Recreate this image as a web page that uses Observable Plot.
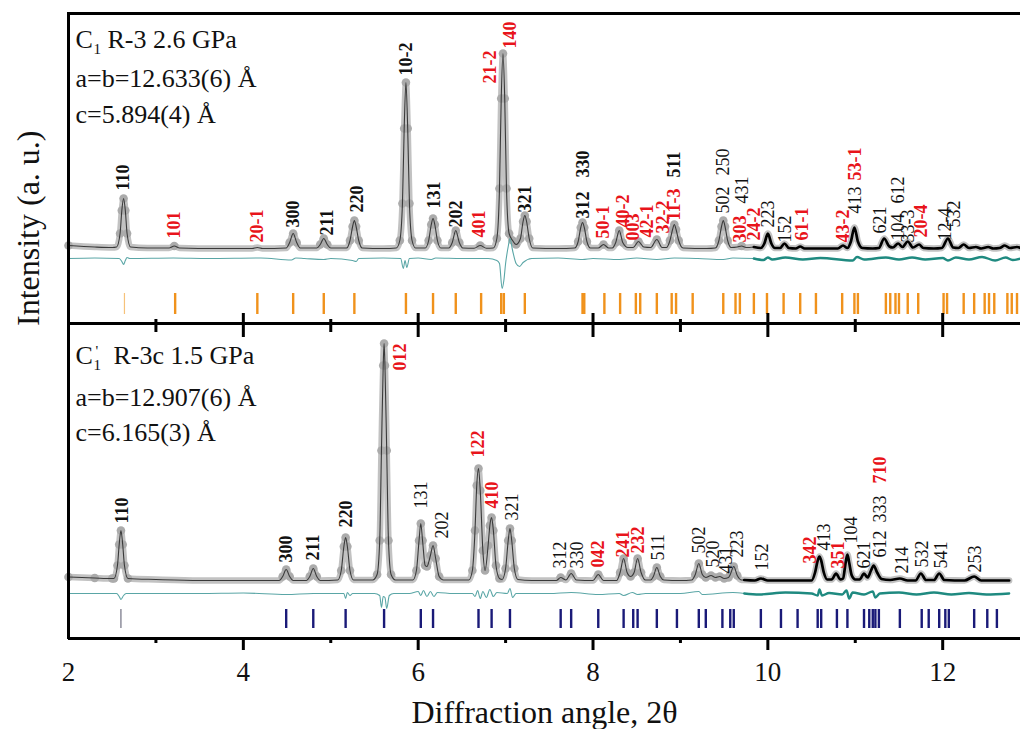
<!DOCTYPE html>
<html><head><meta charset="utf-8">
<script src="https://cdn.jsdelivr.net/npm/d3@7"></script>
<script src="https://cdn.jsdelivr.net/npm/@observablehq/plot@0.6"></script>
<style>body{margin:0;background:#fff} svg{display:block}</style>
</head><body><div id="chart"></div>
<script>
// ---- data (2θ, intensity above panel baseline, a.u.) ----
const topProfile = [[2.0,3],[2.3,1.5],[2.5,1],[2.55,1.5],[2.59,15],[2.61,38],[2.63,50],[2.65,38],[2.67,15],[2.71,1.5],[2.9,0.5],[3.15,0.5],[3.21,2.5],[3.27,0.5],[3.7,0],[4.1,0],[4.16,1],[4.22,0],[4.49,0.5],[4.53,6],[4.57,15],[4.61,6],[4.65,0.5],[4.84,0.5],[4.88,4],[4.92,10],[4.96,4],[5.0,0.5],[5.18,0.5],[5.22,8],[5.25,22],[5.27,28],[5.29,22],[5.32,8],[5.36,0.5],[5.6,0],[5.75,0.5],[5.79,8],[5.82,45],[5.84,120],[5.86,166],[5.88,120],[5.90,45],[5.93,8],[5.97,0.5],[6.08,0.5],[6.12,8],[6.15,24],[6.17,30],[6.19,24],[6.22,8],[6.26,0.5],[6.35,0.5],[6.39,6],[6.43,18],[6.47,6],[6.51,0.5],[6.64,0.3],[6.71,3],[6.78,0.3],[6.86,0.5],[6.90,10],[6.93,60],[6.95,150],[6.97,195],[6.99,150],[7.01,60],[7.04,15],[7.08,8],[7.12,4],[7.17,10],[7.20,27],[7.22,33],[7.24,27],[7.27,10],[7.31,0.5],[7.6,0],[7.79,0.5],[7.83,7],[7.86,21],[7.88,26],[7.90,21],[7.93,7],[7.97,0.5],[8.06,0.5],[8.12,4],[8.18,0.5],[8.22,0.5],[8.26,6],[8.30,18],[8.34,6],[8.40,1],[8.46,1],[8.52,7],[8.58,1.5],[8.66,1],[8.73,9],[8.79,1],[8.84,1],[8.88,8],[8.91,19],[8.93,24],[8.95,19],[8.98,8],[9.03,0.5],[9.3,0],[9.40,0.5],[9.44,8],[9.47,22],[9.49,28],[9.51,22],[9.54,8],[9.58,1],[9.65,1.5],[9.70,2.5],[9.75,1],[9.84,1.5],[9.92,0.5],[9.96,5],[10.0,15],[10.04,5],[10.08,0.5],[10.14,0.5],[10.19,5],[10.24,0.5],[10.32,0],[10.37,2],[10.42,0],[10.8,0],[10.86,3],[10.91,0.5],[10.95,7],[10.99,21],[11.03,7],[11.08,0.5],[11.2,0],[11.27,0.5],[11.33,10],[11.39,2],[11.43,1],[11.49,5],[11.54,1.5],[11.60,7],[11.66,1],[11.73,4],[11.78,0.5],[11.9,0],[11.99,0.5],[12.06,10],[12.12,1],[12.18,0.5],[12.24,4],[12.30,0.5],[12.38,1.5],[12.44,0],[12.52,1.5],[12.58,0],[12.65,0.5],[12.71,3],[12.77,0.5],[12.85,1.5],[12.89,0.5]];

const bottomProfile = [[2.0,3.5],[2.3,2.5],[2.5,2],[2.52,2],[2.56,15],[2.58,36],[2.60,50],[2.62,36],[2.64,15],[2.68,2],[3.0,1],[3.5,0],[4.3,0],[4.41,0],[4.45,4],[4.49,11],[4.53,4],[4.57,0],[4.72,0],[4.76,4],[4.80,12],[4.84,4],[4.88,0],[5.08,0.5],[5.12,10],[5.15,34],[5.17,43],[5.19,34],[5.22,10],[5.26,0.5],[5.48,0.5],[5.53,6],[5.56,40],[5.58,130],[5.60,215],[5.61,237],[5.62,215],[5.64,130],[5.66,40],[5.69,6],[5.74,0.5],[5.94,0.5],[5.98,10],[6.01,40],[6.03,57],[6.05,40],[6.08,15],[6.10,14],[6.14,25],[6.17,35],[6.20,22],[6.24,4],[6.29,0.5],[6.58,0.5],[6.62,10],[6.65,50],[6.67,95],[6.69,112],[6.71,90],[6.74,30],[6.765,10],[6.80,35],[6.82,55],[6.84,63],[6.86,50],[6.89,15],[6.93,2],[6.96,1],[7.0,12],[7.03,40],[7.05,52],[7.07,40],[7.10,12],[7.14,1],[7.3,0],[7.58,0],[7.63,3],[7.69,0.5],[7.75,7],[7.81,0.5],[8.0,0],[8.06,6],[8.12,0],[8.27,0],[8.31,8],[8.35,22],[8.39,8],[8.43,4],[8.47,8],[8.51,22],[8.55,8],[8.60,0.5],[8.66,0.5],[8.69,4],[8.73,13],[8.77,4],[8.81,0.5],[9.0,0],[9.13,0.5],[9.17,6],[9.21,17],[9.25,6],[9.29,3],[9.35,5],[9.40,3],[9.45,4],[9.50,2],[9.55,3],[9.57,6],[9.61,14],[9.65,5],[9.70,0.5],[9.73,0.5],[9.85,0],[9.92,2],[10.0,0],[10.45,0],[10.50,0],[10.54,8],[10.57,20],[10.59,24],[10.61,20],[10.64,8],[10.68,1],[10.73,1],[10.78,7],[10.83,1],[10.86,2],[10.89,18],[10.91,26],[10.93,18],[10.96,5],[11.0,1],[11.05,1],[11.10,7],[11.14,3],[11.18,10],[11.21,15],[11.25,8],[11.30,1.5],[11.4,0.5],[11.51,2],[11.6,0],[11.69,0],[11.75,7],[11.81,0.5],[11.90,0.5],[11.96,7],[12.02,0.5],[12.25,0],[12.36,4],[12.44,0],[12.76,0]];

const topDiff = [[2.0,0],[2.3,0.5],[2.58,0],[2.61,-3],[2.63,-6],[2.65,-2],[2.67,1],[2.7,0],[3.2,0.5],[3.6,0],[4.2,0.5],[4.55,-1.5],[4.6,0.5],[4.7,0],[4.92,-1],[5.0,0],[5.25,-2],[5.29,-3],[5.32,0],[5.6,0.5],[5.80,0],[5.83,-10],[5.85,-2],[5.87,-9],[5.90,0],[6.0,0.5],[6.15,-1],[6.2,0.5],[6.5,0],[6.8,0],[6.90,-2],[6.93,-5],[6.96,-30],[6.98,-22],[7.0,-5],[7.03,12],[7.05,20],[7.08,8],[7.12,-5],[7.16,-8],[7.2,-4],[7.3,0],[7.6,0.5],[7.88,-1],[8.0,0],[8.3,-1],[8.5,0.5],[8.73,-1],[8.93,0.5],[9.2,0],[9.49,-1],[9.6,0.5],[9.84,0],[9.95,-1.5],[10.0,1],[10.05,-1],[10.2,1],[10.4,-1],[10.6,0.5],[10.97,-2],[11.02,1.5],[11.1,-1],[11.35,1],[11.5,-1],[11.65,1],[11.8,-1],[12.0,0.5],[12.06,-2],[12.15,1],[12.3,-1],[12.45,1.5],[12.6,-2],[12.72,1],[12.8,-1.5],[12.89,0]];

const bottomDiff = [[2.0,0],[2.55,0],[2.58,-3],[2.60,-6],[2.63,-2],[2.66,0],[3.5,0],[4.0,0.5],[4.49,-1],[4.8,0],[5.15,0],[5.17,-5],[5.19,1],[5.22,-2],[5.25,0],[5.5,0],[5.56,-2],[5.58,-14],[5.60,-3],[5.62,-4],[5.64,-15],[5.67,-2],[5.72,0],[5.9,0],[6.0,2],[6.03,-2],[6.06,3],[6.10,-3],[6.14,2],[6.18,-3],[6.22,1],[6.4,0],[6.62,0],[6.65,-3],[6.68,3],[6.71,-5],[6.74,2],[6.78,-4],[6.82,4],[6.86,-3],[6.9,1],[7.02,0],[7.05,5],[7.08,-4],[7.12,0],[7.5,0],[7.75,1],[8.06,-1],[8.3,0],[8.35,-2],[8.45,1],[8.51,-1],[8.6,0],[9.0,0],[9.21,2],[9.25,-1],[9.6,1],[9.73,0],[9.9,-1],[10.2,1],[10.5,0],[10.57,-2],[10.59,4],[10.62,-2],[10.7,0.5],[10.85,-1],[10.9,3],[10.93,-5],[10.97,1],[11.1,-1],[11.2,2],[11.23,-4],[11.28,0],[11.5,1],[11.7,-1],[11.9,1],[12.1,-1],[12.3,0.5],[12.5,-1],[12.76,0]];

const topBragg = [2.64,3.22,4.16,4.57,4.92,5.27,5.86,6.17,6.43,6.72,6.95,6.98,7.22,7.88,7.90,8.13,8.31,8.49,8.54,8.73,8.90,8.95,9.14,9.49,9.63,9.68,9.84,9.99,10.18,10.37,10.55,10.85,10.99,11.03,11.35,11.40,11.46,11.50,11.60,11.72,12.01,12.05,12.24,12.36,12.48,12.53,12.59,12.74,12.79,12.85];
const bottomBragg = [2.60,4.49,4.80,5.17,5.61,6.03,6.17,6.69,6.84,7.05,7.63,7.75,8.06,8.35,8.46,8.51,8.73,8.96,9.21,9.29,9.48,9.57,9.61,9.92,10.15,10.34,10.57,10.61,10.79,10.91,11.10,11.16,11.20,11.23,11.27,11.51,11.76,11.84,11.96,12.03,12.07,12.36,12.51,12.62];

// hkl labels: text, 2θ, label base height (a.u.), kind (k = main, r = extra)
const topLabels = [
 ["110",2.63,58,"k"],["101",3.21,10,"r"],["20-1",4.16,6,"r"],["300",4.57,21,"k"],["211",4.96,13,"k"],["220",5.30,36,"k"],
 ["10-2",5.86,173,"k"],["21-2",6.82,165,"r"],["140",7.05,200,"r"],["131",6.18,40,"k"],["202",6.44,21,"k"],["401",6.70,11,"r"],
 ["321",7.23,36,"k"],["312",7.89,30,"k"],["330",7.89,71,"k"],["50-1",8.12,10,"r"],["40-2",8.34,21,"r"],["003",8.46,8,"r"],
 ["42-1",8.62,11,"r"],["32-2",8.80,15,"r"],["11-3",8.93,28,"r"],["511",8.93,71,"k"],["502",9.49,35,"k"],["250",9.49,73,"k"],
 ["431",9.71,45,"k"],["303",9.68,6,"r"],["24-2",9.84,8,"r"],["223",10.0,21,"k"],["152",10.20,6,"k"],["61-1",10.39,8,"r"],
 ["43-2",10.86,6,"r"],["413",11.0,35,"k"],["53-1",11.0,68,"r"],["621",11.29,15,"k"],["104",11.49,8,"k"],["612",11.49,45,"k"],
 ["33-3",11.61,6,"k"],["20-4",11.75,11,"r"],["12-4",12.03,8,"k"],["532",12.13,21,"k"]
];
const bottomLabels = [
 ["110",2.62,57,"k"],["300",4.49,18,"k"],["211",4.80,20,"k"],["220",5.18,53,"k"],["012",5.80,210,"r"],["131",6.03,72,"k"],
 ["202",6.28,42,"k"],["122",6.69,123,"r"],["410",6.85,72,"r"],["321",7.08,60,"k"],["312",7.63,12,"k"],["330",7.82,12,"k"],
 ["042",8.06,13,"r"],["241",8.34,23,"r"],["232",8.52,27,"r"],["511",8.75,20,"k"],["502",9.21,27,"k"],["520",9.38,13,"k"],
 ["431",9.52,7,"k"],["223",9.65,23,"k"],["152",9.94,10,"k"],["342",10.49,17,"r"],["413",10.64,30,"k"],["351",10.80,12,"r"],
 ["104",10.95,37,"k"],["621",11.10,12,"k"],["612",11.29,23,"k"],["333",11.29,58,"k"],["710",11.29,97,"r"],["214",11.54,7,"k"],
 ["532",11.77,13,"k"],["541",11.98,12,"k"],["253",12.37,8,"k"]
];

const majorTicks = [2,4,6,8,10,12];
const minorTicks = [3,5,7,9,11];
const topHeader = ["a=b=12.633(6) Å","c=5.894(4) Å"];
const bottomHeader = ["a=b=12.907(6) Å","c=6.165(3) Å"];

// ---- layout (vertical offsets of the two stacked panels, a.u.) ----
const TOP_BASE = 390, TOP_DIFF = 380, TOP_DIV = 315, FRAME_TOP = 625;
const BOT_BASE = 58, BOT_DIFF = 45;
const TOP_SPLIT = 9.84, BOT_SPLIT = 9.73;
const SERIF = "'Liberation Serif','Times New Roman',Times,serif";
const RED = "#e8141b", INK = "#111";

function panel(profile, diff, base, dbase, split) {
  const X = d => d[0];
  return [
    Plot.line(profile, {x: X, y: d => base + d[1], stroke: "#c2c2c2", strokeWidth: 6.5, curve: "monotone-x", strokeLinejoin: "round", strokeLinecap: "round"}),
    Plot.dot(profile.filter(d => d[0] < split && d[1] >= 2), {x: X, y: d => base + d[1], r: 4.3, fill: "#ababab"}),
    Plot.line(profile.filter(d => d[0] <= split), {x: X, y: d => base + d[1], stroke: "#3a3a3a", strokeWidth: 1.1, curve: "monotone-x"}),
    Plot.line(profile.filter(d => d[0] >= split), {x: X, y: d => base + d[1], stroke: "#000", strokeWidth: 2.7, curve: "monotone-x"}),
    Plot.line(diff.filter(d => d[0] <= split), {x: X, y: d => dbase + d[1], stroke: "#5aa6a6", strokeWidth: 1.1, curve: "monotone-x"}),
    Plot.line(diff.filter(d => d[0] >= split), {x: X, y: d => dbase + d[1], stroke: "#1f8a80", strokeWidth: 2.4, curve: "monotone-x"})
  ];
}

function labels(list, base, boldLimit) {
  const common = {x: d => d[1], y: d => base + d[2], text: d => d[0], rotate: -90, textAnchor: "start", lineAnchor: "middle", fontSize: 18, fontFamily: SERIF};
  return [
    Plot.text(list.filter(d => d[3] === "r"), {...common, fill: RED, fontWeight: "bold"}),
    Plot.text(list.filter(d => d[3] === "k" && d[1] < boldLimit), {...common, fill: INK, fontWeight: "bold"}),
    Plot.text(list.filter(d => d[3] === "k" && d[1] >= boldLimit), {...common, fill: INK, fontWeight: "normal"})
  ];
}

const hdr = {x: () => 2, textAnchor: "start", lineAnchor: "bottom", fontFamily: SERIF, fill: INK};

const chart = Plot.plot({
  width: 1020, height: 729,
  marginLeft: 68, marginRight: 0, marginTop: 13, marginBottom: 91,
  x: {domain: [2, 12.89], axis: null},
  y: {domain: [0, FRAME_TOP], axis: null},
  style: {background: "#fff", fontFamily: SERIF},
  marks: [
    ...panel(topProfile, topDiff, TOP_BASE, TOP_DIFF, TOP_SPLIT),
    ...panel(bottomProfile, bottomDiff, BOT_BASE, BOT_DIFF, BOT_SPLIT),
    // Bragg positions
    Plot.ruleX(topBragg.slice(0,1), {x: d => d, y1: 324, y2: 345, stroke: "#f6c27a", strokeWidth: 1.2}),
    Plot.ruleX(topBragg.slice(1), {x: d => d, y1: 324, y2: 345, stroke: "#f0921c", strokeWidth: 2.4}),
    Plot.ruleX(bottomBragg.slice(0,1), {x: d => d, y1: 10, y2: 29, stroke: "#55556a", strokeWidth: 1}),
    Plot.ruleX(bottomBragg.slice(1), {x: d => d, y1: 10, y2: 29, stroke: "#1a1a78", strokeWidth: 2.4}),
    // hkl labels
    ...labels(topLabels, TOP_BASE, 9.3),
    ...labels(bottomLabels, BOT_BASE, 5.5),
    // frame
    Plot.ruleY([0, TOP_DIV, FRAME_TOP], {stroke: "#000", strokeWidth: 3}),
    Plot.ruleX([2], {y1: -1, y2: FRAME_TOP + 1, stroke: "#000", strokeWidth: 3}),
    // ticks on divider (both sides) and bottom axis (outside)
    Plot.ruleX(majorTicks.slice(1), {x: d => d, y1: TOP_DIV - 14, y2: TOP_DIV + 10, stroke: "#000", strokeWidth: 3}),
    Plot.ruleX(minorTicks, {x: d => d, y1: TOP_DIV - 9, y2: TOP_DIV + 4, stroke: "#000", strokeWidth: 3}),
    Plot.ruleX(majorTicks.slice(1), {x: d => d, y1: -12, y2: 0, stroke: "#000", strokeWidth: 3}),
    Plot.ruleX(minorTicks, {x: d => d, y1: -5, y2: 0, stroke: "#000", strokeWidth: 3}),
    Plot.text(majorTicks, {x: d => d, y: 0, dy: 42, text: d => String(d), lineAnchor: "bottom", fontSize: 27, fontFamily: SERIF, fill: INK}),
    // axis titles
    Plot.text(["Diffraction angle, 2θ"], {frameAnchor: "bottom", dy: 84, text: d => d, lineAnchor: "bottom", fontSize: 32, fontFamily: SERIF, fill: INK}),
    Plot.text(["Intensity (a. u.)"], {frameAnchor: "left", dx: -40, rotate: -90, text: d => d, lineAnchor: "middle", fontSize: 32, fontFamily: SERIF, fill: INK}),
    // panel headers
    Plot.text(["C"], {...hdr, y: 591, dx: 7, text: d => d, fontSize: 26}),
    Plot.text(["1"], {...hdr, y: 585, dx: 25, text: d => d, fontSize: 15}),
    Plot.text(["R-3 2.6 GPa"], {...hdr, y: 591, dx: 39, text: d => d, fontSize: 26}),
    Plot.text(topHeader, {...hdr, y: (d, i) => [552, 516][i], dx: 7, text: d => d, fontSize: 26}),
    Plot.text(["C"], {...hdr, y: 275, dx: 7, text: d => d, fontSize: 26}),
    Plot.text(["1"], {...hdr, y: 269, dx: 25, text: d => d, fontSize: 15}),
    Plot.text(["'"], {...hdr, y: 283, dx: 27, text: d => d, fontSize: 15}),
    Plot.text(["R-3c 1.5 GPa"], {...hdr, y: 275, dx: 45, text: d => d, fontSize: 26}),
    Plot.text(bottomHeader, {...hdr, y: (d, i) => [233, 198][i], dx: 7, text: d => d, fontSize: 26})
  ]
});
document.getElementById("chart").append(chart);
</script>
</body></html>
